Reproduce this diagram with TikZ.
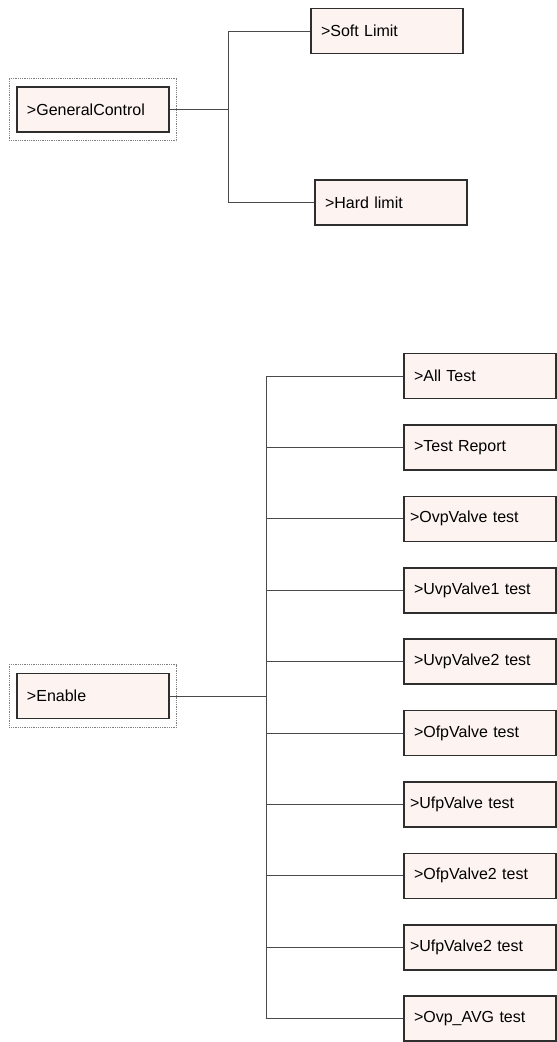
\documentclass[tikz,border=0pt]{standalone}
\usepackage{fontspec}
\setmainfont{Liberation Sans}
\usetikzlibrary{positioning, fit}
\definecolor{boxfill}{HTML}{FDF4F1}
\definecolor{boxline}{HTML}{2E2E2E}
\definecolor{wirecol}{HTML}{4A4A4A}

\begin{document}
\begin{tikzpicture}[
      x=1bp, y=-1bp,
      node distance=24.8bp,
      menu/.style={rectangle, draw=boxline, line width=1.6bp, fill=boxfill, minimum height=45bp, inner xsep=10bp, text width=132bp, align=left, font=\fontsize{16bp}{18bp}\selectfont},
      tight/.style={menu, inner xsep=6bp, text width=140bp},
      outline/.style={draw=gray, densely dotted, line width=0.8bp, inner xsep=7bp, inner ysep=8bp},
      wire/.style={draw=wirecol, line width=1bp}
    ]
    \useasboundingbox (0,0) rectangle (557,1042);

    \node[menu] (gc) at (93,109.5) {>GeneralControl};
    \node[outline, fit=(gc)] (gcframe) {};
    \node[menu] (soft) at (387,31) {>Soft Limit};
    \node[menu] (hard) at (391,202.5) {>Hard limit};
    \coordinate (gcbus) at (228,109.5);

    \draw[wire] (gc.east) -- (gcbus);
    \draw[wire] (gcbus |- soft.west) -- (gcbus |- hard.west);
    \draw[wire] (gcbus |- soft.west) -- (soft.west);
    \draw[wire] (gcbus |- hard.west) -- (hard.west);

    \node[menu] (en) at (93,696) {>Enable};
    \node[outline, fit=(en)] (enframe) {};
    \node[menu] (all) at (480,376) {>All Test};
    \node[menu, below=of all] (report) {>Test Report};
    \node[tight, below=of report] (ovp) {>OvpValve test};
    \node[menu, below=of ovp] (uvpa) {>UvpValve1 test};
    \node[menu, below=of uvpa] (uvpb) {>UvpValve2 test};
    \node[menu, below=of uvpb] (ofpa) {>OfpValve test};
    \node[tight, below=of ofpa] (ufpa) {>UfpValve test};
    \node[menu, below=of ufpa] (ofpb) {>OfpValve2 test};
    \node[tight, below=of ofpb] (ufpb) {>UfpValve2 test};
    \node[menu, below=of ufpb] (ovpavg) {>Ovp\_AVG test};
    \coordinate (enbus) at (266,696);

    \draw[wire] (en.east) -- (enbus);
    \draw[wire] (enbus |- all.west) -- (enbus |- ovpavg.west);
    \draw[wire] (enbus |- all.west) -- (all.west);
    \draw[wire] (enbus |- report.west) -- (report.west);
    \draw[wire] (enbus |- ovp.west) -- (ovp.west);
    \draw[wire] (enbus |- uvpa.west) -- (uvpa.west);
    \draw[wire] (enbus |- uvpb.west) -- (uvpb.west);
    \draw[wire] (enbus |- ofpa.west) -- (ofpa.west);
    \draw[wire] (enbus |- ufpa.west) -- (ufpa.west);
    \draw[wire] (enbus |- ofpb.west) -- (ofpb.west);
    \draw[wire] (enbus |- ufpb.west) -- (ufpb.west);
    \draw[wire] (enbus |- ovpavg.west) -- (ovpavg.west);
  \end{tikzpicture}
\end{document}
